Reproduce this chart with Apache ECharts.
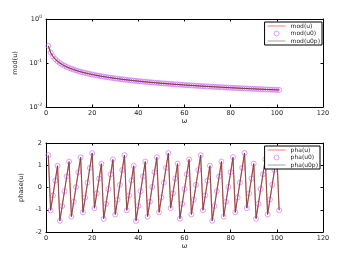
<!DOCTYPE html>
<html><head><meta charset="utf-8">
<script src="https://cdn.jsdelivr.net/npm/echarts@6/dist/echarts.min.js"></script>
<style>html,body{margin:0;padding:0;background:#fff}#c{width:357px;height:262px}</style>
</head><body><div id="c"></div>
<script>
const omega = [];
for (let i = 1; i <= 101; i++) omega.push(i);
const modU = [0.245,0.1732,0.1414,0.1225,0.1096,0.1000,0.0926,0.0866,0.0817,0.0775,
0.0739,0.0707,0.0680,0.0655,0.0633,0.0613,0.0594,0.0577,0.0562,0.0548,
0.0535,0.0522,0.0511,0.0500,0.0490,0.0480,0.0471,0.0463,0.0455,0.0447,
0.0440,0.0433,0.0426,0.0420,0.0414,0.0408,0.0403,0.0397,0.0392,0.0387,
0.0383,0.0378,0.0374,0.0369,0.0365,0.0361,0.0357,0.0354,0.0350,0.0346,
0.0343,0.0340,0.0337,0.0333,0.0330,0.0327,0.0325,0.0322,0.0319,0.0316,
0.0314,0.0311,0.0309,0.0306,0.0304,0.0302,0.0299,0.0297,0.0295,0.0293,
0.0291,0.0289,0.0287,0.0285,0.0283,0.0281,0.0279,0.0277,0.0276,0.0274,
0.0272,0.0271,0.0269,0.0267,0.0266,0.0264,0.0263,0.0261,0.0260,0.0258,
0.0257,0.0255,0.0254,0.0253,0.0251,0.0250,0.0249,0.0247,0.0246,0.0245,0.0244];
const phaU = [1.450,-1.025,-0.359,0.308,0.974,-1.501,-0.834,-0.168,0.499,1.165,
-1.310,-0.644,0.022,0.689,1.355,-1.120,-0.454,0.213,0.879,1.546,
-0.929,-0.263,0.403,1.070,-1.405,-0.739,-0.073,0.594,1.260,-1.215,
-0.548,0.118,0.785,1.451,-1.024,-0.358,0.309,0.975,-1.500,-0.833,
-0.167,0.500,1.166,-1.309,-0.643,0.024,0.690,1.357,-1.118,-0.452,
0.215,0.881,1.547,-0.928,-0.261,0.405,1.071,-1.404,-0.737,-0.071,
0.596,1.262,-1.213,-0.547,0.120,0.786,1.453,-1.022,-0.356,0.311,
0.977,-1.498,-0.832,-0.165,0.501,1.168,-1.307,-0.641,0.026,0.692,
1.359,-1.117,-0.450,0.216,0.883,1.549,-0.926,-0.259,0.407,1.073,
-1.402,-0.735,-0.069,0.598,1.264,-1.211,-0.545,0.122,0.788,1.455,-1.021];

const pair = (ys) => omega.map((x, i) => [x, ys[i]]);
const FONT = 'DejaVu Sans';
const lab = {fontSize: 6.5, color: '#222', fontFamily: FONT};
const RED = '#ff6a6a', VIO = '#cc66ff', DARK = '#3a3a3a';
const LINE_ICON = 'path://M0 0 H20 V1 H0 Z';
const CIRCLE_STYLE = {color: 'rgba(255,255,255,0)', borderColor: VIO, borderWidth: 0.8};

function xAxes(gi, name) {
  return [
    {gridIndex: gi, type: 'value', min: 0, max: 120, interval: 20,
     name: name, nameLocation: 'middle', nameGap: 10,
     nameTextStyle: {fontSize: 7, color: '#222', fontFamily: FONT},
     axisLine: {show: true, onZero: false, lineStyle: {color: '#000', width: 1}},
     axisTick: {inside: true, length: 2.5, lineStyle: {color: '#000'}},
     axisLabel: Object.assign({margin: 3}, lab), splitLine: {show: false}},
    {gridIndex: gi, type: 'value', position: 'top', min: 0, max: 120, interval: 20,
     axisLine: {show: true, onZero: false, lineStyle: {color: '#000', width: 1}},
     axisTick: {inside: true, length: 2.5, lineStyle: {color: '#000'}},
     axisLabel: {show: false}, splitLine: {show: false}}
  ];
}

const logFmt = (v) => '10{s|' + Math.round(Math.log10(v)) + '}';
const yLabLog = Object.assign({margin: 4, formatter: logFmt,
  rich: {s: {fontSize: 4.5, color: '#222', verticalAlign: 'bottom', padding: [0, 0, 5, 0], fontFamily: FONT}}}, lab);

function legend(names, right, top) {
  return {orient: 'vertical', right: right, top: top, itemWidth: 18, itemHeight: 5, itemGap: 1.5,
    padding: [1, 2, 1, 3], borderColor: '#000', borderWidth: 1, backgroundColor: '#fff',
    symbolKeepAspect: true,
    textStyle: {fontSize: 6, color: '#222', fontFamily: FONT},
    data: [
      {name: names[0], icon: LINE_ICON, itemStyle: {color: RED}},
      {name: names[1], icon: 'circle', itemStyle: CIRCLE_STYLE},
      {name: names[2], icon: LINE_ICON, itemStyle: {color: '#999'}}
    ]};
}

const option = {
  animation: false,
  backgroundColor: '#fff',
  grid: [
    {left: 46, right: 34, top: 19, height: 88},
    {left: 46, right: 34, top: 143, height: 89}
  ],
  xAxis: [...xAxes(0, 'ω'), ...xAxes(1, 'ω')],
  yAxis: [
    {gridIndex: 0, type: 'log', logBase: 10, min: 0.01, max: 1,
     name: 'mod(u)', nameLocation: 'middle', nameGap: 12, nameRotate: 90,
     nameTextStyle: {fontSize: 6.5, color: '#222', fontFamily: FONT},
     axisLine: {show: true, onZero: false, lineStyle: {color: '#000'}},
     axisTick: {inside: true, length: 2.5, lineStyle: {color: '#000'}},
     axisLabel: yLabLog, splitLine: {show: false}},
    {gridIndex: 0, type: 'log', logBase: 10, min: 0.01, max: 1, position: 'right',
     axisLine: {show: true, onZero: false, lineStyle: {color: '#000'}},
     axisTick: {inside: true, length: 2.5, lineStyle: {color: '#000'}},
     axisLabel: {show: false}, splitLine: {show: false}},
    {gridIndex: 1, type: 'value', min: -2, max: 2, interval: 1,
     name: 'phase(u)', nameLocation: 'middle', nameGap: 12, nameRotate: 90,
     nameTextStyle: {fontSize: 6.5, color: '#222', fontFamily: FONT},
     axisLine: {show: true, onZero: false, lineStyle: {color: '#000'}},
     axisTick: {inside: true, length: 2.5, lineStyle: {color: '#000'}},
     axisLabel: Object.assign({margin: 4}, lab), splitLine: {show: false}},
    {gridIndex: 1, type: 'value', min: -2, max: 2, interval: 1, position: 'right',
     axisLine: {show: true, onZero: false, lineStyle: {color: '#000'}},
     axisTick: {inside: true, length: 2.5, lineStyle: {color: '#000'}},
     axisLabel: {show: false}, splitLine: {show: false}}
  ],
  legend: [
    legend(['mod(u)', 'mod(u0)', 'mod(u0p)'], 35, 22),
    legend(['pha(u)', 'pha(u0)', 'pha(u0p)'], 37, 146)
  ],
  series: [
    {name: 'mod(u)', type: 'line', xAxisIndex: 0, yAxisIndex: 0, data: pair(modU),
     symbol: 'none', lineStyle: {color: RED, width: 1.2}, itemStyle: {color: RED}},
    {name: 'mod(u0)', type: 'scatter', xAxisIndex: 0, yAxisIndex: 0, data: pair(modU),
     symbol: 'circle', symbolSize: 5, itemStyle: CIRCLE_STYLE},
    {name: 'mod(u0p)', type: 'line', xAxisIndex: 0, yAxisIndex: 0, data: pair(modU),
     symbol: 'none', lineStyle: {color: DARK, width: 0.8}, itemStyle: {color: '#999'}},
    {name: 'pha(u)', type: 'line', xAxisIndex: 2, yAxisIndex: 2, data: pair(phaU),
     symbol: 'none', lineStyle: {color: RED, width: 1.2}, itemStyle: {color: RED}},
    {name: 'pha(u0)', type: 'scatter', xAxisIndex: 2, yAxisIndex: 2, data: pair(phaU),
     symbol: 'circle', symbolSize: 5, itemStyle: CIRCLE_STYLE},
    {name: 'pha(u0p)', type: 'line', xAxisIndex: 2, yAxisIndex: 2, data: pair(phaU),
     symbol: 'none', lineStyle: {color: DARK, width: 0.8, opacity: 0.75}, itemStyle: {color: '#999'}}
  ]
};
const chart = echarts.init(document.getElementById('c'), null, {renderer: 'canvas'});
chart.setOption(option);
</script>
</body></html>
